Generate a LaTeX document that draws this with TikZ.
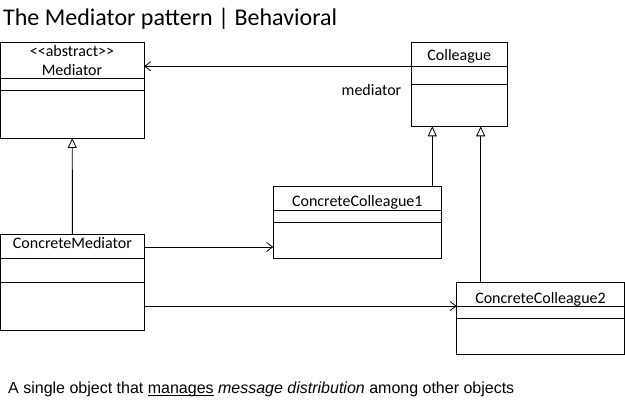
\documentclass[tikz,border=0pt]{standalone}
\usepackage{fontspec}
\setmainfont{Carlito}
\newfontfamily\arialfont{Liberation Sans}
\usetikzlibrary{arrows.meta}
\newcommand\myul[1]{\setbox0\hbox{#1}\rlap{\rule[-2pt]{\wd0}{0.8pt}}#1}
\tikzset{
  umlbox/.style={draw=black, line width=0.9pt, anchor=north west, inner sep=0pt, outer sep=0pt},
  divider/.style={draw=black, line width=0.9pt},
  lbl/.style={anchor=base, inner sep=0pt, font=\fontsize{16}{19}\selectfont},
  assoc/.style={draw=black, line width=0.9pt, -{Straight Barb[length=6pt,width=9pt,line width=0.8pt]}},
  gen/.style={draw=black, line width=0.9pt, -{Triangle[open,length=10pt,width=9pt,line width=0.8pt,fill=white]}}
}
\begin{document}
\begin{tikzpicture}[x=1pt,y=-1pt]
\useasboundingbox (0,0) rectangle (625,401);
% title
\node[anchor=base west, inner sep=0pt, font=\fontsize{24}{28}\selectfont] (title) at (3,26) {The Mediator pattern | Behavioral};
% Mediator
\node[umlbox, minimum width=143.5pt, minimum height=96pt] (med) at (0.5,42) {};
\draw[divider] (0.5,78) -- (144,78);
\draw[divider] (0.5,90) -- (144,90);
\node[lbl] (medst) at (72,56.7) {{<}{<}abstract{>}{>}};
\node[lbl] (medn) at (72,75.3) {Mediator};
% Colleague
\node[umlbox, minimum width=95.5pt, minimum height=84.3pt] (coll) at (411.5,42) {};
\coordinate (cd1) at (411.5,66.3);
\draw[divider] (411.5,66.3) -- (507,66.3);
\draw[divider] (411.5,84.3) -- (507,84.3);
\node[lbl] (colln) at (459.3,60.7) {Colleague};
% ConcreteColleague1
\node[umlbox, minimum width=168pt, minimum height=72.4pt] (cc1) at (273.3,186.3) {};
\draw[divider] (273.3,210.7) -- (441.3,210.7);
\draw[divider] (273.3,222.3) -- (441.3,222.3);
\node[lbl] (cc1n) at (357.3,206.7) {ConcreteColleague1};
% ConcreteMediator
\node[umlbox, minimum width=143.8pt, minimum height=96pt] (cm) at (0.5,234.3) {};
\draw[divider] (0.5,258.3) -- (144.3,258.3);
\draw[divider] (0.5,282.3) -- (144.3,282.3);
\node[lbl] (cmn) at (72.4,249) {ConcreteMediator};
% ConcreteColleague2
\node[umlbox, minimum width=167.6pt, minimum height=71.7pt] (cc2) at (456.7,282.3) {};
\draw[divider] (456.7,306.7) -- (624.3,306.7);
\draw[divider] (456.7,318.3) -- (624.3,318.3);
\node[lbl] (cc2n) at (540.5,304) {ConcreteColleague2};
% role label
\node[lbl] (role) at (371.5,95.3) {mediator};
% connectors
\coordinate (g1) at (432.3,0);
\coordinate (g2) at (480.7,0);
\coordinate (y1) at (0,247);
\coordinate (y2) at (0,306);
\draw[assoc] (cd1) -- (med.east |- cd1);
\draw[gen] (cm.north) -- (med.south);
\draw[gen] (cc1.north -| g1) -- (coll.south -| g1);
\draw[gen] (cc2.north -| g2) -- (coll.south -| g2);
\draw[assoc] (cm.east |- y1) -- (cc1.west |- y1);
\draw[assoc] (cm.east |- y2) -- (cc2.west |- y2);
% caption
\node[anchor=base west, inner sep=0pt, font=\arialfont\fontsize{16}{19}\selectfont] (cap) at (8,394) {A single object that \myul{manages} \textit{message distribution} among other objects};
\end{tikzpicture}
\end{document}
